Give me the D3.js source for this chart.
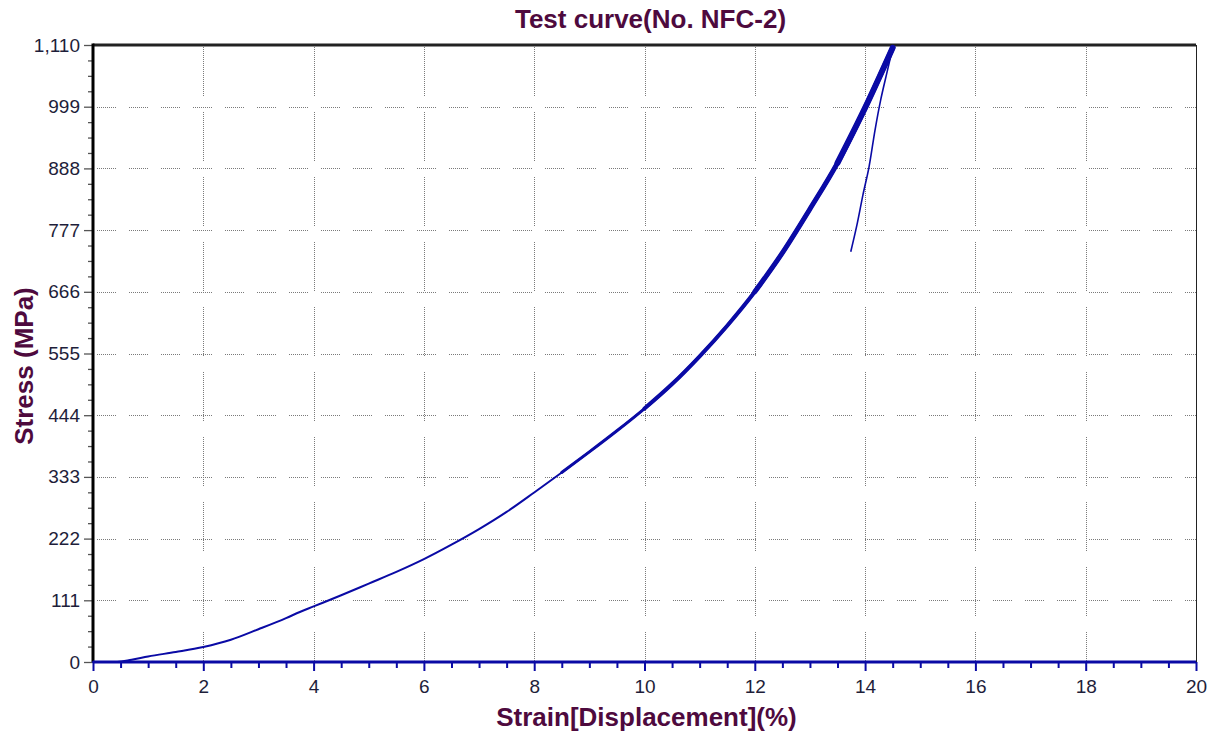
<!DOCTYPE html>
<html>
<head>
<meta charset="utf-8">
<script src="https://cdn.jsdelivr.net/npm/d3@7"></script>
<style>
  html, body { margin: 0; padding: 0; background: #ffffff; }
  svg { display: block; font-family: "Liberation Sans", Arial, sans-serif; }
</style>
</head>
<body>
<svg id="chart" width="1217" height="734"></svg>
<script>
// ---- data ----
const chartTitle = "Test curve(No. NFC-2)";
const xTitle = "Strain[Displacement](%)";
const yTitle = "Stress (MPa)";
const xTicks = [0, 2, 4, 6, 8, 10, 12, 14, 16, 18, 20];
const yTicks = [0, 111, 222, 333, 444, 555, 666, 777, 888, 999, 1110];

// loading curve
const loadStrain = [0.00, 0.44, 0.7, 1.0, 1.5, 2.0, 2.5, 3.0, 3.5, 3.75, 4.0, 4.5, 5.0, 5.5, 6.0, 6.5, 7.0, 7.5, 8.0, 8.5, 9.0, 9.5, 10.0, 10.5, 11.0, 11.5, 12.0, 12.5, 13.0, 13.5, 14.0, 14.5];
const loadStress = [0, 0, 4, 10, 18, 27, 40, 59, 79, 90, 100, 120, 141, 162, 185, 211, 239, 270, 305, 341, 378, 416, 456, 500, 550, 605, 666, 736, 815, 898, 997, 1105];

// unloading line
const unloadStrain = [14.5, 14.4, 14.28, 14.18, 14.07, 13.96, 13.86, 13.74];
const unloadStress = [1105, 1062, 1010, 957, 890, 840, 790, 738];

// baseline trace along zero stress
const baseStrain = [0, 20];
const baseStress = [0, 0];

// ---- layout ----
const W = 1217, H = 734;
const m = { left: 93, right: 21, top: 45, bottom: 72 };
const iw = W - m.left - m.right, ih = H - m.top - m.bottom;

const svg = d3.select("#chart");
const x = d3.scaleLinear().domain([0, 20]).range([m.left, m.left + iw]);
const y = d3.scaleLinear().domain([0, 1110]).range([m.top + ih, m.top]);

const titleColor = "#4e0a3e";
const labelColor = "#1e1e3a";
const lineColor = "#0a0aa5";
const gridColor = "#7a7a7a";

// dotted dashed patterns
function dotted(seg, gap) {
  const a = [];
  for (let i = 0; i < Math.floor(seg / 2); i++) a.push(1, 1);
  a[a.length - 1] = gap;
  return a.join(",");
}

// ---- grid ----
const grid = svg.append("g");
grid.selectAll("line.h").data(yTicks.filter(v => v > 0 && v < 1110)).enter()
  .append("line")
  .attr("x1", m.left + 4).attr("x2", m.left + iw)
  .attr("y1", d => Math.round(y(d)) + 0.5).attr("y2", d => Math.round(y(d)) + 0.5)
  .attr("stroke", gridColor).attr("stroke-width", 1)
  .attr("stroke-dasharray", dotted(20, 13));
grid.selectAll("line.v").data(xTicks.filter(v => v > 0 && v < 20)).enter()
  .append("line")
  .attr("x1", d => Math.round(x(d)) + 0.5).attr("x2", d => Math.round(x(d)) + 0.5)
  .attr("y1", m.top + 2).attr("y2", m.top + ih)
  .attr("stroke", gridColor).attr("stroke-width", 1)
  .attr("stroke-dasharray", dotted(50, 16));

// ---- frame ----
svg.append("line").attr("x1", m.left).attr("x2", m.left + iw)
  .attr("y1", m.top).attr("y2", m.top).attr("stroke", "#222").attr("stroke-width", 3);
svg.append("line").attr("x1", m.left + iw + 0.5).attr("x2", m.left + iw + 0.5)
  .attr("y1", m.top).attr("y2", m.top + ih).attr("stroke", "#222").attr("stroke-width", 1);

// ---- axes ----
const yMinor = [];
for (let i = 0; i < yTicks.length - 1; i++) {
  for (let k = 1; k < 4; k++) yMinor.push(yTicks[i] + (yTicks[i + 1] - yTicks[i]) * k / 4);
}
const xMinor = [];
for (let i = 0; i < xTicks.length - 1; i++) {
  for (let k = 1; k < 4; k++) xMinor.push(xTicks[i] + (xTicks[i + 1] - xTicks[i]) * k / 4);
}

const yAxis = svg.append("g").attr("transform", `translate(${m.left},0)`)
  .call(d3.axisLeft(y).tickValues(yTicks).tickFormat(d3.format(",")).tickSize(9).tickPadding(4));
yAxis.select(".domain").remove();
yAxis.selectAll(".tick line").attr("stroke", "#555").attr("stroke-width", 1.3);
yAxis.selectAll(".tick text").attr("fill", labelColor).style("font-size", "19px");
const yAxisMinor = svg.append("g").attr("transform", `translate(${m.left},0)`)
  .call(d3.axisLeft(y).tickValues(yMinor).tickFormat("").tickSize(5));
yAxisMinor.select(".domain").remove();
yAxisMinor.selectAll(".tick line").attr("stroke", "#555").attr("stroke-width", 1.3);

const xAxis = svg.append("g").attr("transform", `translate(0,${m.top + ih})`)
  .call(d3.axisBottom(x).tickValues(xTicks).tickFormat(d3.format("d")).tickSize(9).tickPadding(9));
xAxis.select(".domain").remove();
xAxis.selectAll(".tick line").attr("stroke", lineColor).attr("stroke-width", 2);
xAxis.selectAll(".tick text").attr("fill", labelColor).style("font-size", "19px");
const xAxisMinor = svg.append("g").attr("transform", `translate(0,${m.top + ih})`)
  .call(d3.axisBottom(x).tickValues(xMinor).tickFormat("").tickSize(6));
xAxisMinor.select(".domain").remove();
xAxisMinor.selectAll(".tick line").attr("stroke", lineColor).attr("stroke-width", 2);

// left axis line
svg.append("line").attr("x1", m.left).attr("x2", m.left)
  .attr("y1", m.top - 1.5).attr("y2", m.top + ih).attr("stroke", "#000").attr("stroke-width", 3);

// ---- data lines ----
const line = d3.line().x(d => x(d[0])).y(d => y(d[1]));
const loadPts = loadStrain.map((s, i) => [s, loadStress[i]]);
const unloadPts = unloadStrain.map((s, i) => [s, unloadStress[i]]);
const basePts = baseStrain.map((s, i) => [s, baseStress[i]]);

svg.append("path").attr("d", line(basePts)).attr("fill", "none")
  .attr("stroke", lineColor).attr("stroke-width", 3);

const smooth = d3.line().x(d => x(d[0])).y(d => y(d[1])).curve(d3.curveMonotoneX);
const bands = [
  { from: 0, w: 2 },
  { from: 8.5, w: 3 },
  { from: 10.0, w: 4 },
  { from: 12.0, w: 5 },
  { from: 13.5, w: 6 }
];
bands.forEach(b => {
  svg.append("path").attr("d", smooth(loadPts.filter(p => p[0] >= b.from))).attr("fill", "none")
    .attr("stroke", lineColor).attr("stroke-width", b.w)
    .attr("stroke-linejoin", "round").attr("stroke-linecap", "round");
});
svg.append("path").attr("d", d3.line().x(d => x(d[0])).y(d => y(d[1])).curve(d3.curveCatmullRom)(unloadPts))
  .attr("fill", "none")
  .attr("stroke", lineColor).attr("stroke-width", 1.6).attr("stroke-linejoin", "round");

// ---- titles ----
svg.append("text").attr("x", (m.left + m.left + iw) / 2 + 6).attr("y", 28)
  .attr("text-anchor", "middle").attr("fill", titleColor)
  .style("font-size", "26px").style("font-weight", "bold").text(chartTitle);
svg.append("text").attr("x", (m.left + m.left + iw) / 2 + 2).attr("y", 726)
  .attr("text-anchor", "middle").attr("fill", titleColor)
  .style("font-size", "26px").style("font-weight", "bold").text(xTitle);
svg.append("text").attr("transform", "translate(33,366) rotate(-90)")
  .attr("text-anchor", "middle").attr("fill", titleColor)
  .style("font-size", "26px").style("font-weight", "bold").text(yTitle);
</script>
</body>
</html>
